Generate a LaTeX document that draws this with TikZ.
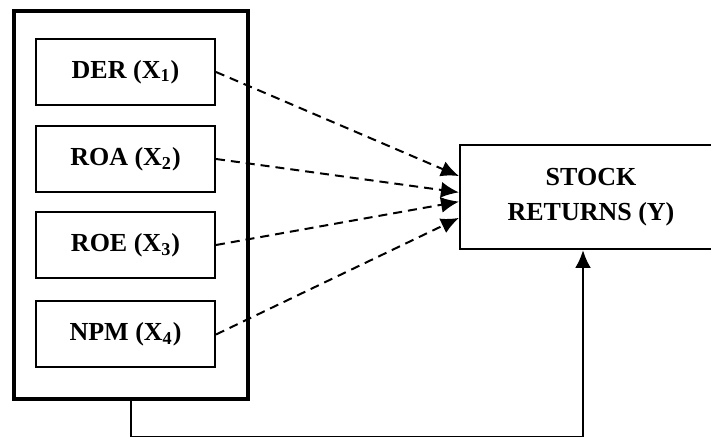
\documentclass[tikz,border=0pt]{standalone}
\usepackage{fontspec}
\setmainfont{Liberation Serif}
\usetikzlibrary{arrows.meta}

\begin{document}
\begin{tikzpicture}[x=0.5pt, y=-0.5pt,
    varbox/.style={draw, line width=1pt, minimum width=89.5pt, minimum height=33pt,
        font=\fontsize{13}{16}\selectfont\bfseries},
    link/.style={line width=1pt, dash pattern=on 4.5pt off 3pt, -{Latex[length=9pt, width=8pt]}}]
    \useasboundingbox (0,0) rectangle (711,437);

    % independent variables
    \node[draw, line width=2pt, minimum width=117pt, minimum height=194pt] (grp) at (131,205) {};
    \node[varbox] (der) at (125.5,72) {DER (X\textsubscript{1})};
    \node[varbox] (roa) at (125.5,159) {ROA (X\textsubscript{2})};
    \node[varbox] (roe) at (125.5,245) {ROE (X\textsubscript{3})};
    \node[varbox] (npm) at (125.5,334.5) {NPM (X\textsubscript{4})};

    % dependent variable (runs past the right edge)
    \node[draw, line width=1pt, minimum width=131pt, minimum height=52pt, align=center,
        font=\fontsize{13}{17.5}\selectfont\bfseries] (ret) at (591,197) {STOCK\\RETURNS (Y)};

    \draw[link] (der.east) -- (ret.171);
    \draw[link] (roa.east) -- (ret.178);
    \draw[link] (roe.east) -- (ret.182);
    \draw[link] (npm.east) -- (ret.189);

    \draw[line width=1.3pt, -{Latex[length=9pt, width=8pt]}] (grp.south) -- ++(0,36) -| ([xshift=-4pt]ret.south);

\end{tikzpicture}
\end{document}
